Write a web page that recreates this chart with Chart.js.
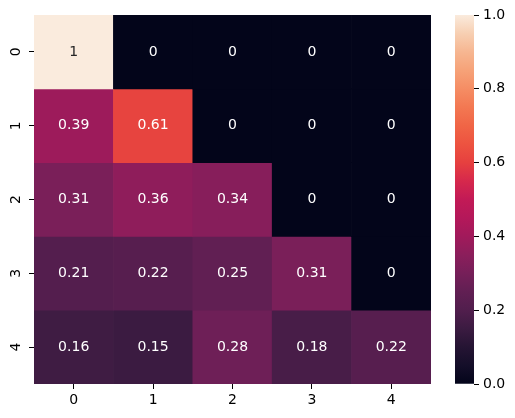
<!DOCTYPE html>
<html>
<head>
<meta charset="utf-8">
<script src="https://cdn.jsdelivr.net/npm/chart.js@4.4.1/dist/chart.umd.min.js"></script>
<style>
  html, body { margin: 0; padding: 0; background: #fff; }
  #wrap { position: relative; width: 515px; height: 418px; }
  #wrap canvas { position: absolute; left: 0; top: 0; }
</style>
</head>
<body>
<div id="wrap">
  <canvas id="heat" width="515" height="418"></canvas>
  <canvas id="cbar" width="515" height="418"></canvas>
</div>
<script>
// heatmap values, one array per row (top to bottom)
const colLabels = ['0', '1', '2', '3', '4'];
const rowLabels = ['0', '1', '2', '3', '4'];
const row0 = [1, 0, 0, 0, 0];
const row1 = [0.39, 0.61, 0, 0, 0];
const row2 = [0.31, 0.36, 0.34, 0, 0];
const row3 = [0.21, 0.22, 0.25, 0.31, 0];
const row4 = [0.16, 0.15, 0.28, 0.18, 0.22];
const rows = [row0, row1, row2, row3, row4];
const cbarTicks = [0, 0.2, 0.4, 0.6, 0.8, 1.0];

// rocket-ish colour map stops
const rocket = [
  [0.00, '#03051A'], [0.05, '#140E29'], [0.10, '#251433'], [0.15, '#3B1B41'],
  [0.20, '#511E4D'], [0.25, '#611F53'], [0.30, '#761F59'], [0.35, '#8B1E5B'],
  [0.40, '#A11A5B'], [0.45, '#B4185A'], [0.50, '#C21A56'], [0.55, '#D6284C'],
  [0.60, '#E6403F'], [0.65, '#ED5340'], [0.70, '#F06546'], [0.75, '#F37852'],
  [0.80, '#F58D64'], [0.85, '#F6A278'], [0.90, '#F6B691'], [0.95, '#F7CFB2'],
  [1.00, '#FAEBDD']
];
function hex2rgb(h) {
  return [parseInt(h.slice(1, 3), 16), parseInt(h.slice(3, 5), 16), parseInt(h.slice(5, 7), 16)];
}
function cmapRgb(v) {
  v = Math.max(0, Math.min(1, v));
  for (let i = 1; i < rocket.length; i++) {
    if (v <= rocket[i][0]) {
      const a = rocket[i - 1], b = rocket[i];
      const t = (v - a[0]) / (b[0] - a[0]);
      const ca = hex2rgb(a[1]), cb = hex2rgb(b[1]);
      return ca.map((x, k) => Math.round(x + (cb[k] - x) * t));
    }
  }
  return hex2rgb(rocket[rocket.length - 1][1]);
}
const cmap = v => 'rgb(' + cmapRgb(v).join(',') + ')';
function lum(v) {
  const c = cmapRgb(v).map(x => { x /= 255; return x <= 0.03928 ? x / 12.92 : Math.pow((x + 0.055) / 1.055, 2.4); });
  return 0.2126 * c[0] + 0.7152 * c[1] + 0.0722 * c[2];
}
const fmt = v => String(parseFloat(v.toPrecision(2)));

const FONT = { family: 'DejaVu Sans', size: 14 };

const datasets = rows.map((vals, r) => ({
  data: vals.map(() => [r, r + 1]),
  backgroundColor: vals.map(v => cmap(v)),
  borderWidth: 0,
  barPercentage: 1,
  categoryPercentage: 1,
  grouped: false
}));

// cell labels + rotated y tick labels
const heatText = {
  id: 'heatText',
  afterDatasetsDraw(chart) {
    const { ctx, scales: { x, y } } = chart;
    ctx.save();
    ctx.font = '14px "DejaVu Sans"';
    ctx.textAlign = 'center';
    ctx.textBaseline = 'middle';
    rows.forEach((vals, r) => {
      vals.forEach((v, c) => {
        ctx.fillStyle = lum(v) > 0.408 ? '#262626' : '#ffffff';
        ctx.fillText(fmt(v), x.getPixelForValue(c), y.getPixelForValue(r + 0.5));
      });
    });
    ctx.fillStyle = '#000';
    rowLabels.forEach((lab, r) => {
      ctx.save();
      ctx.translate(16, y.getPixelForValue(r + 0.5));
      ctx.rotate(-Math.PI / 2);
      ctx.fillText(lab, 0, 0);
      ctx.restore();
    });
    ctx.restore();
  }
};

new Chart(document.getElementById('heat'), {
  type: 'bar',
  data: { labels: colLabels, datasets: datasets },
  options: {
    responsive: false,
    animation: false,
    layout: { padding: { left: 0, top: 15, right: 84, bottom: 0 } },
    plugins: { legend: { display: false }, tooltip: { enabled: false } },
    scales: {
      x: {
        grid: { drawOnChartArea: false, offset: false, tickLength: 5, color: '#000', lineWidth: 1 },
        border: { display: false },
        ticks: { color: '#000', font: FONT, padding: 3 },
        afterFit: s => { s.height = 34; }
      },
      y: {
        type: 'linear',
        min: 0, max: 5, reverse: true,
        afterBuildTicks: s => { s.ticks = rowLabels.map((l, i) => ({ value: i + 0.5 })); },
        grid: { drawOnChartArea: false, tickLength: 5, color: '#000', lineWidth: 1 },
        border: { display: false },
        ticks: { display: false },
        afterFit: s => { s.width = 34; }
      }
    }
  },
  plugins: [heatText]
});

// colour bar
new Chart(document.getElementById('cbar'), {
  type: 'bar',
  data: {
    labels: [''],
    datasets: [{
      data: [[0, 1]],
      borderWidth: 0,
      barPercentage: 1,
      categoryPercentage: 1,
      backgroundColor: ctx => {
        const ca = ctx.chart.chartArea;
        if (!ca) return null;
        const g = ctx.chart.ctx.createLinearGradient(0, ca.bottom, 0, ca.top);
        rocket.forEach(s => g.addColorStop(s[0], s[1]));
        return g;
      }
    }]
  },
  options: {
    responsive: false,
    animation: false,
    layout: { padding: { left: 455, top: 15, right: 0, bottom: 34 } },
    plugins: { legend: { display: false }, tooltip: { enabled: false } },
    scales: {
      x: { display: false },
      y: {
        position: 'right',
        min: 0, max: 1,
        afterBuildTicks: s => { s.ticks = cbarTicks.map(v => ({ value: v })); },
        grid: { drawOnChartArea: false, tickLength: 5, color: '#000', lineWidth: 1 },
        border: { display: false },
        ticks: { color: '#000', font: FONT, padding: 4, callback: v => v.toFixed(1) },
        afterFit: s => { s.width = 41; }
      }
    }
  }
});
</script>
</body>
</html>
